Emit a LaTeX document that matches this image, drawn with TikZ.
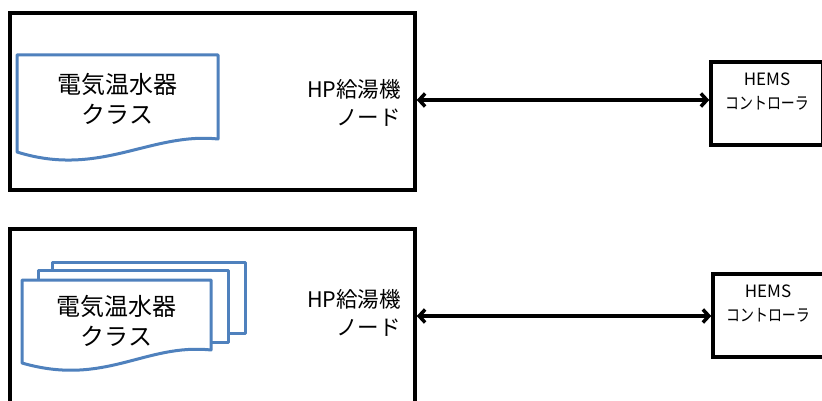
\documentclass[tikz,border=0pt]{standalone}
\usepackage{fontspec}
\setmainfont{Noto Sans CJK JP}
\newfontfamily\narrowjp[FakeStretch=0.82]{Noto Sans CJK JP}
\usetikzlibrary{arrows.meta}
\definecolor{docblue}{RGB}{79,129,189}
\begin{document}
\begin{tikzpicture}[x=1pt,y=-1pt,
  bigbox/.style={draw=black,line width=3.5pt,fill=white,inner sep=0pt},
  hemsbox/.style={draw=black,line width=3.5pt,fill=white,inner sep=0pt,minimum width=112pt,minimum height=83pt},
  doc/.style={draw=docblue,line width=3pt,fill=white,line join=round},
  conn/.style={line width=3.5pt,{Straight Barb[length=6pt,width=13pt,line width=3.5pt]}-{Straight Barb[length=6pt,width=13pt,line width=3.5pt]}},
  doctext/.style={font=\fontsize{24}{30}\selectfont,align=center,inner sep=0pt},
  nodetext/.style={font=\fontsize{21.5}{28}\selectfont,align=right,inner sep=0pt,anchor=east},
  hemstext/.style={font=\fontsize{17}{24}\selectfont,align=center,inner sep=0pt}]
\useasboundingbox (0,0) rectangle (822,401);
\clip (0,0) rectangle (822,401);
% top row
\node[bigbox,minimum width=405pt,minimum height=177pt] (node1) at (212.5,101.5) {};
\draw[doc] (17,55) -- (218,55) -- (218,139) .. controls (150,132) and (100,178) .. (17,152) -- cycle;
\node[doctext] (cls1) at (117.5,99) {電気温水器\\クラス};
\node[nodetext] (lbl1) at (401,103) {HP給湯機\\ノード};
\node[hemsbox] (hems1) at (767,103.5) {};
\node[hemstext] (ht1) at (767,92) {HEMS\\{\narrowjp コントローラ}};
\draw[conn] (node1.east |- 0,100) -- (hems1.west |- 0,100);
% bottom row
\node[bigbox,minimum width=405pt,minimum height=190pt,anchor=north] (node2) at (212.5,227) {};
\draw[doc] (52,262) rectangle (245,333);
\draw[doc] (38,270) rectangle (228,342);
\draw[doc] (22,280) -- (211,280) -- (211,350) .. controls (145,343) and (105,387) .. (22,363) -- cycle;
\node[doctext] (cls2) at (116.5,321) {電気温水器\\クラス};
\node[nodetext] (lbl2) at (401,313) {HP給湯機\\ノード};
\node[hemsbox] (hems2) at (769,315.5) {};
\node[hemstext] (ht2) at (768,304) {HEMS\\{\narrowjp コントローラ}};
\draw[conn] (node2.east |- 0,316) -- (hems2.west |- 0,316);
\end{tikzpicture}
\end{document}
